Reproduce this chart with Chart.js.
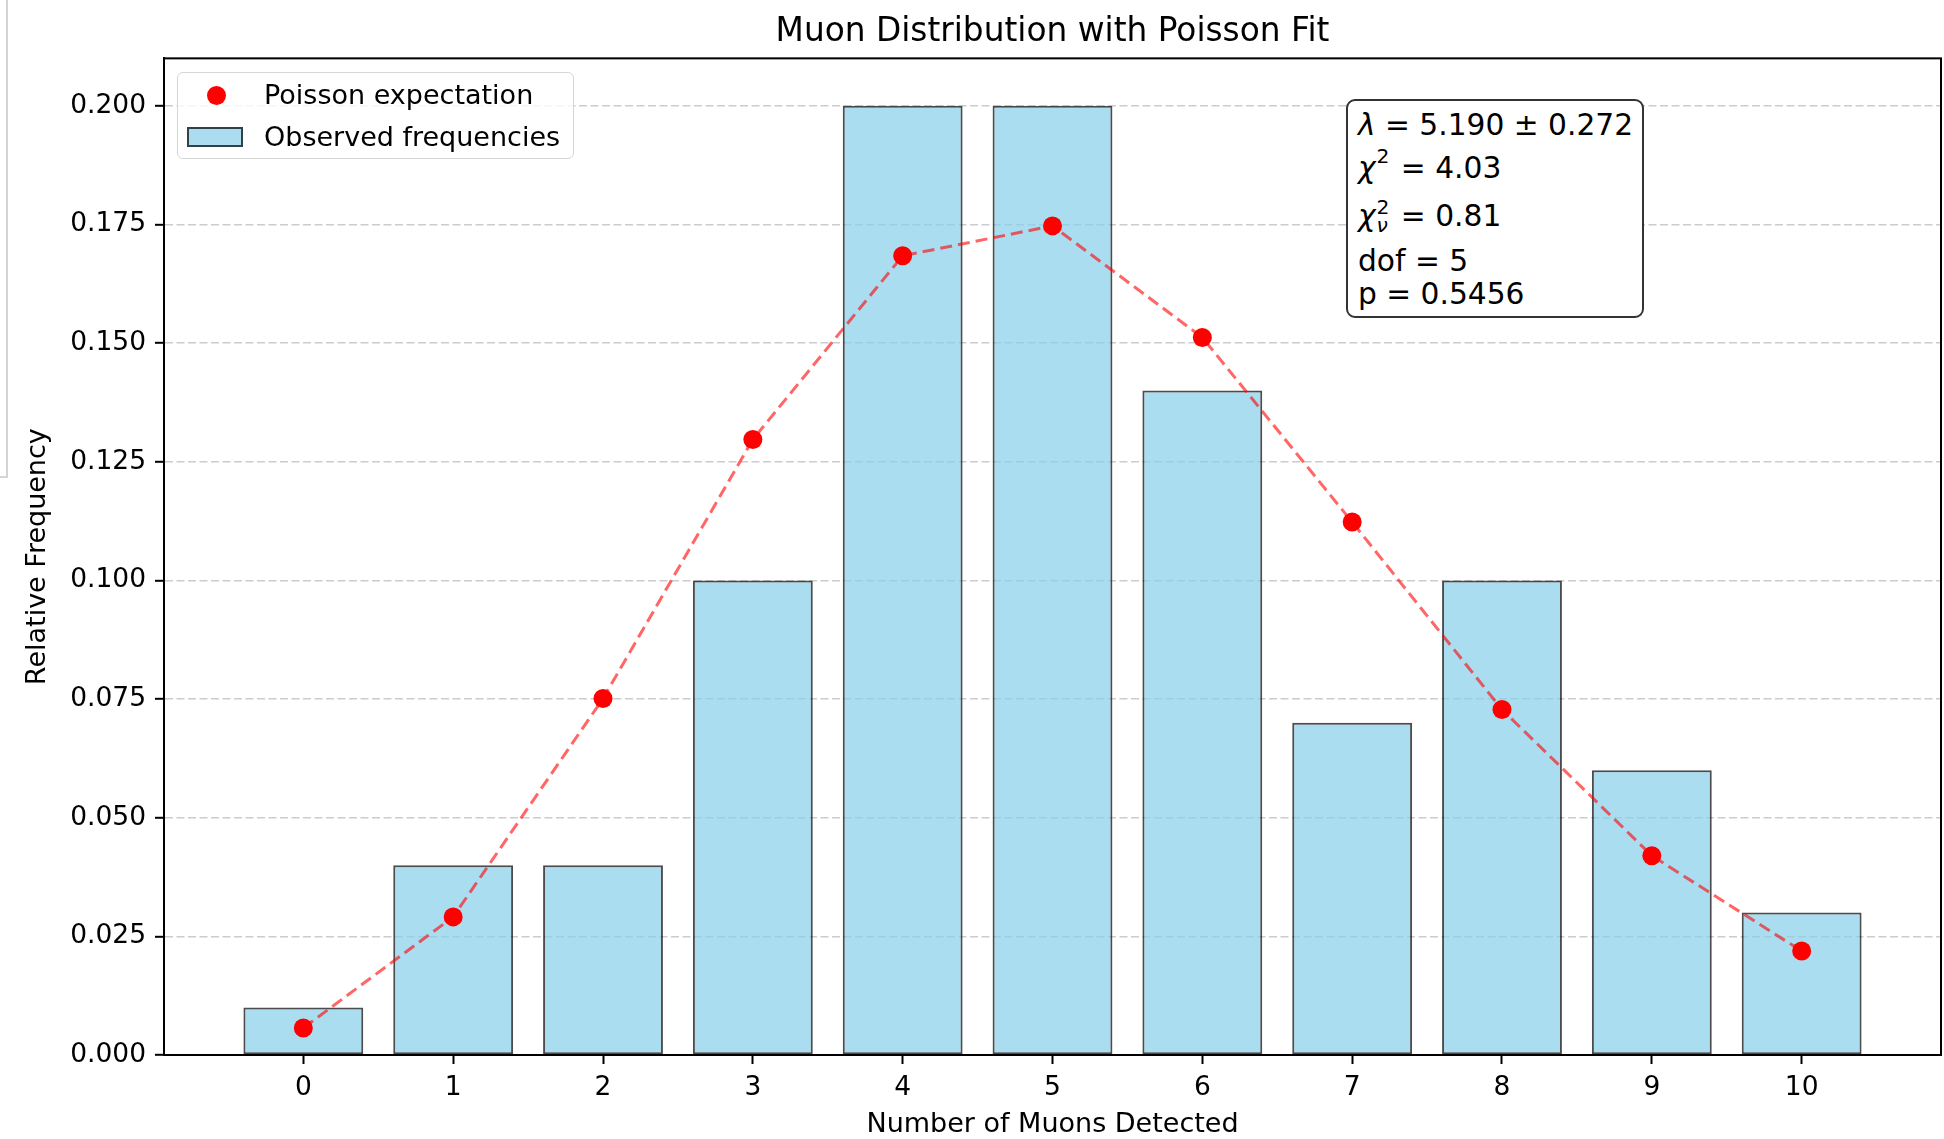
<!DOCTYPE html>
<html>
<head>
<meta charset="utf-8">
<script src="https://cdn.jsdelivr.net/npm/chart.js@4.4.1/dist/chart.umd.min.js"></script>
<style>
html, body { margin: 0; padding: 0; background: #ffffff; }
#wrap { position: relative; width: 1944px; height: 1139px; overflow: hidden; font-family: "DejaVu Sans", sans-serif; color: #000; }
#chart { position: absolute; left: 0; top: 0; }
#edge { position: absolute; left: 0; top: 0; width: 6px; height: 476px; border-right: 2px solid #d4d4d4; border-bottom: 2px solid #d4d4d4; }
#legend { position: absolute; left: 177px; top: 72px; width: 397px; height: 87px; box-sizing: border-box; border: 1.5px solid #d6d6d6; border-radius: 6px; background: rgba(255,255,255,0.8); font-size: 27px; }
#legend .row { position: absolute; left: 0; height: 32px; line-height: 32px; white-space: nowrap; }
#legend .txt { position: absolute; left: 86px; top: 0; }
#legend .dot { position: absolute; left: 29px; top: 6.5px; width: 19px; height: 19px; border-radius: 50%; }
#legend .patch { position: absolute; left: 9px; top: 6px; width: 56px; height: 20px; box-sizing: border-box; border-style: solid; border-width: 2px; }
#stats { position: absolute; left: 1346px; top: 99px; width: 298px; height: 219px; box-sizing: border-box; border: 2.2px solid #333; border-radius: 9px; background: #fff; font-size: 29.7px; }
#stats .ln { position: absolute; left: 10px; height: 36px; line-height: 36px; white-space: nowrap; }
#stats i { font-style: italic; }
.ss { display: inline-block; vertical-align: -0.32em; line-height: 0.9; font-size: 0.68em; text-align: left; margin-left: 1px; margin-right: 2px; }
.sup1 { font-size: 0.68em; vertical-align: 0.75em; line-height: 0; margin-left: 1px; margin-right: 2px; }
</style>
</head>
<body>
<div id="wrap">
  <canvas id="chart" width="1944" height="1139"></canvas>
  <div id="edge"></div>
  <div id="legend"></div>
  <div id="stats">
    <div class="ln" style="top:6px"><i>λ</i> = 5.190 ± 0.272</div>
    <div class="ln" style="top:49px"><i>χ</i><span class="sup1">2</span> = 4.03</div>
    <div class="ln" style="top:97px"><i>χ</i><span class="ss">2<br><i>ν</i></span> = 0.81</div>
    <div class="ln" style="top:142px">dof = 5</div>
    <div class="ln" style="top:175px">p = 0.5456</div>
  </div>
</div>
<script>
// ---- Data ----
const categories = [0, 1, 2, 3, 4, 5, 6, 7, 8, 9, 10];
const observedFreq = [0.01, 0.04, 0.04, 0.10, 0.20, 0.20, 0.14, 0.07, 0.10, 0.06, 0.03];
const poissonExpected = [0.0057, 0.0291, 0.0751, 0.1297, 0.1684, 0.1747, 0.1512, 0.1123, 0.0728, 0.0420, 0.0219];
const yTickValues = [0, 0.025, 0.05, 0.075, 0.1, 0.125, 0.15, 0.175, 0.2];

const chartTitle = 'Muon Distribution with Poisson Fit';
const xLabel = 'Number of Muons Detected';
const yLabel = 'Relative Frequency';
const barLabel = 'Observed frequencies';
const lineLabel = 'Poisson expectation';

const barFill = 'rgba(135,206,235,0.7)';
const barEdge = 'rgba(0,0,0,0.7)';
const lineColor = 'rgba(255,0,0,0.6)';
const dotColor = '#ff0000';

Chart.defaults.font.family = '"DejaVu Sans", sans-serif';
Chart.defaults.color = '#000';

const frame = {
  id: 'frame',
  afterDatasetsDraw(chart) {
    const a = chart.chartArea, c = chart.ctx;
    c.save();
    c.strokeStyle = '#000';
    c.lineWidth = 2;
    c.strokeRect(a.left, a.top, a.right - a.left, a.bottom - a.top);
    c.restore();
  }
};

const chart = new Chart(document.getElementById('chart'), {
  type: 'bar',
  data: {
    datasets: [
      {
        type: 'line',
        label: lineLabel,
        data: categories.map((c, i) => ({ x: c, y: poissonExpected[i] })),
        borderColor: lineColor,
        borderWidth: 3,
        borderDash: [12, 6],
        tension: 0,
        fill: false,
        clip: false,
        pointRadius: 9.5,
        pointBackgroundColor: dotColor,
        pointBorderColor: dotColor,
        pointBorderWidth: 0,
        order: 0
      },
      {
        type: 'bar',
        label: barLabel,
        data: categories.map((c, i) => ({ x: c, y: observedFreq[i] })),
        backgroundColor: barFill,
        borderColor: barEdge,
        borderWidth: 2,
        borderSkipped: false,
        barPercentage: 0.8,
        categoryPercentage: 1.0,
        order: 1
      }
    ]
  },
  options: {
    responsive: false,
    devicePixelRatio: 1,
    animation: false,
    events: [],
    layout: { autoPadding: false, padding: { left: 0, right: 3, top: 0, bottom: 0 } },
    plugins: {
      legend: { display: false },
      tooltip: { enabled: false },
      title: {
        display: true,
        fullSize: false,
        text: chartTitle,
        color: '#000',
        font: { size: 32.8, weight: 'normal', lineHeight: 1.2 },
        padding: { top: 13, bottom: 6 }
      }
    },
    scales: {
      x: {
        type: 'linear',
        min: -0.93,
        max: 10.93,
        offset: false,
        afterBuildTicks: (s) => { s.ticks = categories.map(v => ({ value: v })); },
        afterFit: (s) => { s.height = 84; s.paddingLeft = 0; s.paddingRight = 0; },
        ticks: {
          stepSize: 1,
          includeBounds: false,
          autoSkip: false,
          maxRotation: 0,
          padding: 8,
          font: { size: 26.5 },
          color: '#000',
          callback: (v) => String(v)
        },
        grid: {
          display: true,
          offset: false,
          drawOnChartArea: false,
          drawTicks: true,
          tickLength: 9,
          tickColor: '#000',
          tickWidth: 2
        },
        border: { display: true, color: '#000', width: 2 },
        title: {
          display: true,
          text: xLabel,
          color: '#000',
          font: { size: 27 },
          padding: { top: 0, bottom: -2 }
        }
      },
      y: {
        type: 'linear',
        min: 0,
        max: 0.21,
        afterBuildTicks: (s) => { s.ticks = yTickValues.map(v => ({ value: v })); },
        afterFit: (s) => { s.width = 164; s.paddingTop = 0; s.paddingBottom = 0; },
        ticks: {
          stepSize: 0.025,
          includeBounds: false,
          padding: 9,
          font: { size: 26.5 },
          color: '#000',
          callback: (v) => Number(v).toFixed(3)
        },
        grid: {
          display: true,
          drawOnChartArea: true,
          drawTicks: true,
          color: 'rgba(176,176,176,0.65)',
          lineWidth: 1.6,
          tickLength: 9,
          tickColor: '#000',
          tickWidth: 2
        },
        border: { display: true, color: '#000', width: 2, dash: [8, 3.5] },
        title: {
          display: true,
          text: yLabel,
          color: '#000',
          font: { size: 27 },
          padding: { top: 22, bottom: 0 }
        }
      }
    }
  },
  plugins: [frame]
});

// HTML legend built from the dataset definitions
const leg = document.getElementById('legend');
const legendOrder = [0, 1];
legendOrder.forEach((di, k) => {
  const ds = chart.data.datasets[di];
  const row = document.createElement('div');
  row.className = 'row';
  row.style.top = (k === 0 ? 6 : 48) + 'px';
  row.style.width = '100%';
  const sw = document.createElement('div');
  if (ds.type === 'line') {
    sw.className = 'dot';
    sw.style.background = ds.pointBackgroundColor;
  } else {
    sw.className = 'patch';
    sw.style.background = ds.backgroundColor;
    sw.style.borderColor = ds.borderColor;
  }
  const t = document.createElement('span');
  t.className = 'txt';
  t.textContent = ds.label;
  row.appendChild(sw);
  row.appendChild(t);
  leg.appendChild(row);
});
</script>
</body>
</html>
